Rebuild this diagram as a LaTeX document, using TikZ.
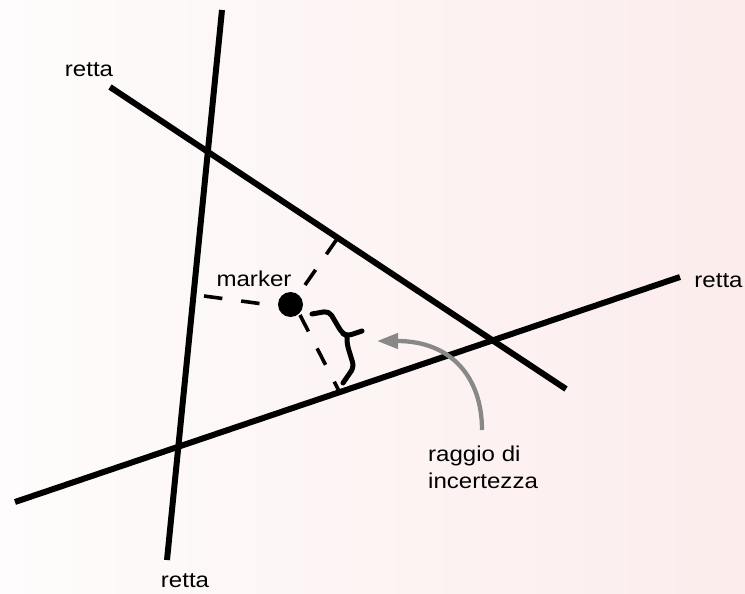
\documentclass[tikz,border=0pt]{standalone}
\usepackage{fontspec}
\setmainfont{Liberation Sans}[FakeStretch=1.12]
\usetikzlibrary{calc,arrows.meta}
\definecolor{bgleft}{RGB}{254,252,252}
\definecolor{bgright}{RGB}{252,236,236}
\definecolor{arrowgray}{RGB}{136,136,136}
\tikzset{
  retta/.style={line width=6pt, black},
  dist/.style={line width=3.6pt, black, dash pattern=on 18.5pt off 19pt},
  lbl/.style={font=\fontsize{21.5}{27}\selectfont, inner sep=0pt, text=black},
  bracestyle/.style={line width=5pt, line cap=round, line join=round, rounded corners=5pt},
  hint/.style={line width=4.3pt, arrowgray, -{Triangle[length=21pt,width=15pt]}}
}
\begin{document}
\begin{tikzpicture}[x=1pt,y=-1pt]
\useasboundingbox (0,0) rectangle (745,594);
\shade[left color=bgleft, right color=bgright] (0,0) rectangle (745,594);
% lines
\coordinate (a1) at (222,10);  \coordinate (a2) at (167,560);
\coordinate (b1) at (110,87);  \coordinate (b2) at (566,389);
\coordinate (c1) at (15,502);  \coordinate (c2) at (680,277);
\draw[retta] (a1) -- (a2);
\draw[retta] (b1) -- (b2);
\draw[retta] (c1) -- (c2);
% marker
\node[circle, fill=black, minimum size=25pt, inner sep=0pt] (m) at (290.5,304.5) {};
% distances
\coordinate (fa) at (204,296);
\coordinate (ma) at (263,304);
\coordinate (fb) at (337,239);
\coordinate (mb) at (305,285);
\coordinate (mc) at (300,315);
\coordinate (fc) at (339,391);
\draw[dist] (fa) -- (ma);
\draw[dist] (mb) -- (fb);
\draw[dist] (mc) -- (fc);
% brace
\coordinate (br1) at (312,314);
\coordinate (brj) at (347,336);
\coordinate (brt) at (362,331);
\coordinate (br2) at (343,383);
\draw[bracestyle] (br1) -- (329,311) -- (342,333) -- (brj) -- (brt);
\draw[bracestyle] (brj) -- (347,344) -- (354,367) -- (br2);
% arrow
\coordinate (as) at (482,430);
\coordinate (ae) at (377,341);
\draw[hint] (as) .. controls (482,378) and (452,341) .. (ae);
% labels
\node[lbl, anchor=base] (t1) at (89,77) {retta};
\node[lbl, anchor=base] (t2) at (718.5,287) {retta};
\node[lbl, anchor=base] (t3) at (185,587) {retta};
\node[lbl, anchor=base] (mk) at (254,286) {marker};
\node[lbl, anchor=base west] (r1) at (428,461) {raggio di};
\node[lbl, anchor=base west] (r2) at (428,488) {incertezza};
\end{tikzpicture}
\end{document}
